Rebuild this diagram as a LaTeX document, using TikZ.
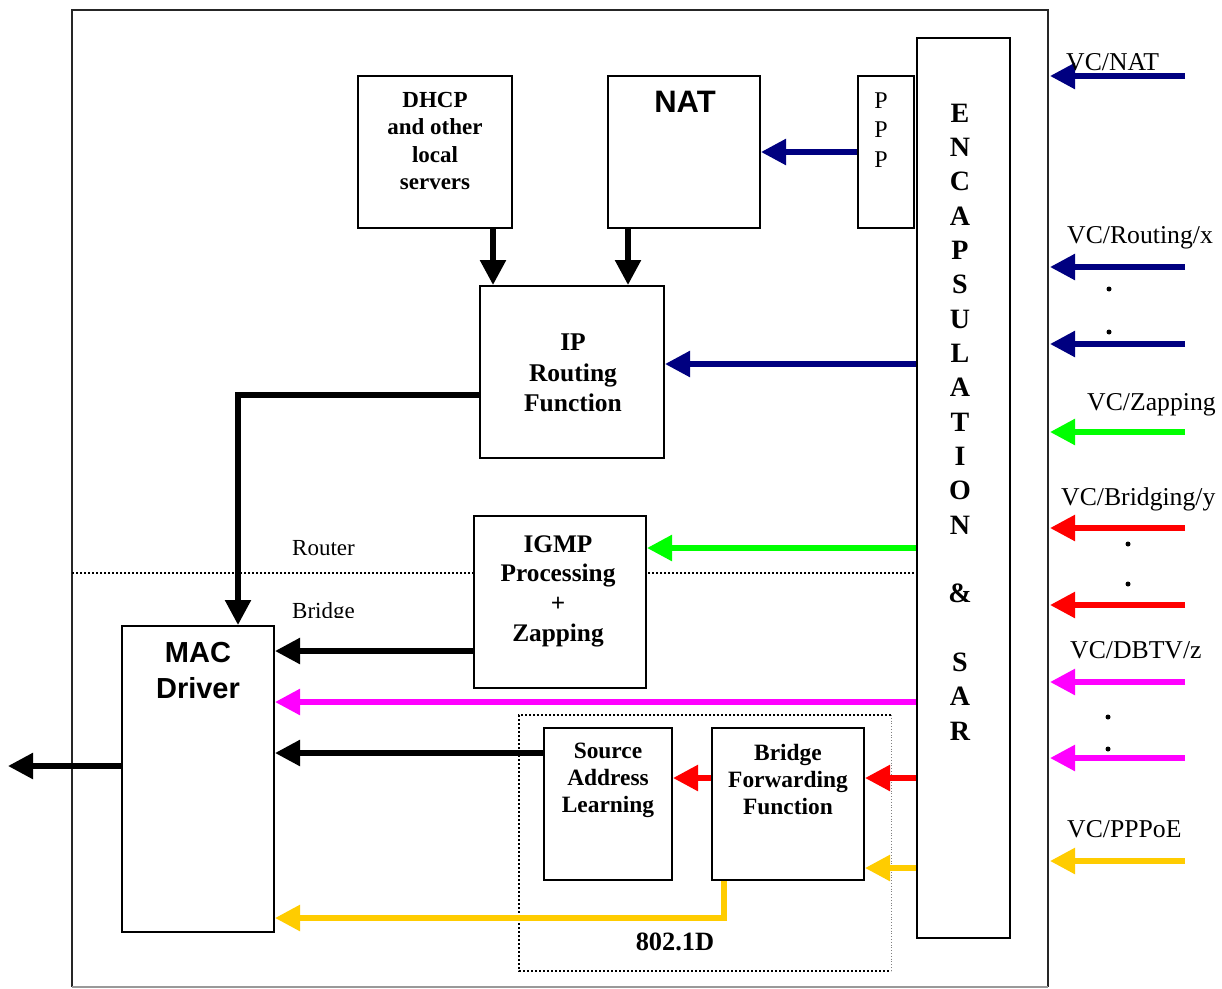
\documentclass[tikz,border=0pt]{standalone}
\usepackage{fontspec}
\setmainfont{Liberation Serif}
\newfontfamily\arialf{Liberation Sans}
\usetikzlibrary{arrows.meta}
\definecolor{navyc}{RGB}{0,0,128}
\definecolor{greenc}{RGB}{0,255,0}
\definecolor{redc}{RGB}{255,0,0}
\definecolor{magc}{RGB}{255,0,255}
\definecolor{yelc}{RGB}{255,204,0}
\begin{document}
\begin{tikzpicture}[x=1pt,y=-1pt,
  box/.style={draw, line width=2pt, fill=white, inner sep=0pt, rectangle},
  arr/.style={line width=5.5pt, -{Triangle[length=25pt,width=25pt]}},
  tb/.style={align=center, inner sep=0pt, font={\fontsize{23}{27.5}\selectfont\bfseries}},
  tbl/.style={align=center, inner sep=0pt, font={\fontsize{25.5}{30.5}\selectfont\bfseries}},
  ts/.style={align=center, inner sep=0pt, font={\arialf\fontsize{29}{36}\selectfont\bfseries}},
  vc/.style={anchor=base west, inner sep=0pt, font={\fontsize{25.7}{30}\selectfont}},
  lbl/.style={anchor=base west, inner sep=0pt, font={\fontsize{23}{26}\selectfont}},
  dot/.style={fill=black}]
\useasboundingbox (0,0) rectangle (1222,988);
\fill[white] (0,0) rectangle (1222,988);
% outer frame
\draw[line width=1.5pt, black!85] (72,987) -- (72,10) -- (1048,10) -- (1048,987);
\draw[line width=1.5pt, black!40] (72,987) -- (1048,987);
% router/bridge separator
\draw[line width=2pt, dotted] (72,573) -- (917,573);
\node[lbl] (router) at (292,555) {Router};
\begin{scope}
\clip (280,590) rectangle (420,617);
\node[lbl] (bridge) at (292,618) {Bridge};
\end{scope}
% 802.1D box
\draw[line width=2pt, dotted] (891,715) -- (519,715) -- (519,971) -- (891,971);
\draw[line width=0.8pt, dotted, black!50] (891,715) -- (891,971);
\node[inner sep=0pt, font={\fontsize{26.4}{30}\selectfont\bfseries}] (d8021) at (675,942) {802.1D};
% boxes
\node[box, minimum width=154pt, minimum height=152pt] (dhcp) at (435,152) {};
\node[box, minimum width=152pt, minimum height=152pt] (nat) at (684,152) {};
\node[box, minimum width=56pt, minimum height=152pt] (ppp) at (886,152) {};
\node[box, minimum width=93pt, minimum height=900pt] (encap) at (963.5,488) {};
\node[box, minimum width=184pt, minimum height=172pt] (ip) at (572,372) {};
\node[box, minimum width=172pt, minimum height=172pt] (igmp) at (560,602) {};
\node[box, minimum width=152pt, minimum height=306pt] (mac) at (198,779) {};
\node[box, minimum width=128pt, minimum height=152pt] (sal) at (608,804) {};
\node[box, minimum width=152pt, minimum height=152pt] (bff) at (788,804) {};
% texts
\node[tb] (dhcpt) at (435,141) {DHCP\\and other\\local\\servers};
\node[ts, font={\arialf\fontsize{31}{36}\selectfont\bfseries}] (natt) at (685,102) {NAT};
\node[align=center, inner sep=0pt, font={\fontsize{24}{29.5}\selectfont}] (pppt) at (881,130) {P\\P\\P};
\node[align=center, inner sep=0pt, font={\fontsize{28}{34.33}\selectfont\bfseries}] (encapt) at (960,422)
  {E\\N\\C\\A\\P\\S\\U\\L\\A\\T\\I\\O\\N\\~\\\&\\~\\S\\A\\R};
\node[tbl] (ipt) at (573,373) {IP\\Routing\\Function};
\node[tbl, font={\fontsize{25.3}{29.7}\selectfont\bfseries}] (igmpt) at (558,591) {IGMP\\Processing\\+\\Zapping};
\node[ts] (mact) at (198,671) {MAC\\Driver};
\node[tb, font={\fontsize{23.4}{27}\selectfont\bfseries}] (salt) at (608,780) {Source\\Address\\Learning};
\node[tb, font={\fontsize{23.4}{27}\selectfont\bfseries}] (bfft) at (788,780) {Bridge\\Forwarding\\Function};
% internal arrows
\draw[arr] (dhcp.south -| 493,0) -- (ip.north -| 493,0);
\draw[arr] (nat.south -| 628,0) -- (ip.north -| 628,0);
\draw[arr, navyc] (ppp.west) -- (nat.east);
\draw[arr, navyc] (encap.west |- 0,364) -- (ip.east |- 0,364);
\draw[arr] (ip.west |- 0,395) -| (mac.north -| 238,0);
\draw[arr, greenc] (encap.west |- 0,548) -- (igmp.east |- 0,548);
\draw[arr] (igmp.west |- 0,651) -- (mac.east |- 0,651);
\draw[arr, magc] (encap.west |- 0,702) -- (mac.east |- 0,702);
\draw[arr] (sal.west |- 0,753) -- (mac.east |- 0,753);
\draw[arr, redc] (encap.west |- 0,778) -- (bff.east |- 0,778);
\draw[arr, redc] (bff.west |- 0,778) -- (sal.east |- 0,778);
\draw[arr, yelc] (encap.west |- 0,868) -- (bff.east |- 0,868);
\draw[arr, yelc] (bff.south -| 724,0) |- (mac.east |- 0,918);
\coordinate (out) at (8,766);
\draw[arr] (mac.west |- 0,766) -- (out);
% right side inputs
\coordinate (s1) at (1185,76);  \coordinate (e1) at (1050,76);
\coordinate (s2) at (1185,267); \coordinate (e2) at (1050,267);
\coordinate (s3) at (1185,344); \coordinate (e3) at (1050,344);
\coordinate (s4) at (1185,432); \coordinate (e4) at (1050,432);
\coordinate (s5) at (1185,528); \coordinate (e5) at (1050,528);
\coordinate (s6) at (1185,605); \coordinate (e6) at (1050,605);
\coordinate (s7) at (1185,682); \coordinate (e7) at (1050,682);
\coordinate (s8) at (1185,758); \coordinate (e8) at (1050,758);
\coordinate (s9) at (1185,861); \coordinate (e9) at (1050,861);
\draw[arr, navyc] (s1) -- (e1);
\draw[arr, navyc] (s2) -- (e2);
\draw[arr, navyc] (s3) -- (e3);
\draw[arr, greenc] (s4) -- (e4);
\draw[arr, redc] (s5) -- (e5);
\draw[arr, redc] (s6) -- (e6);
\draw[arr, magc] (s7) -- (e7);
\draw[arr, magc] (s8) -- (e8);
\draw[arr, yelc] (s9) -- (e9);
\node[vc] (vcnat) at (1066,70) {VC/NAT};
\node[vc] (vcrout) at (1067,243) {VC/Routing/x};
\node[vc] (vczap) at (1087,410) {VC/Zapping};
\node[vc] (vcbr) at (1061,505) {VC/Bridging/y};
\node[vc] (vcdb) at (1070,658) {VC/DBTV/z};
\node[vc] (vcppp) at (1067,837) {VC/PPPoE};
\fill[dot] (1109,289) circle (2.5pt);
\fill[dot] (1109,332) circle (2.5pt);
\fill[dot] (1128,544) circle (2.5pt);
\fill[dot] (1128,584) circle (2.5pt);
\fill[dot] (1108,717) circle (2.5pt);
\fill[dot] (1108,749) circle (2.5pt);
\end{tikzpicture}
\end{document}
